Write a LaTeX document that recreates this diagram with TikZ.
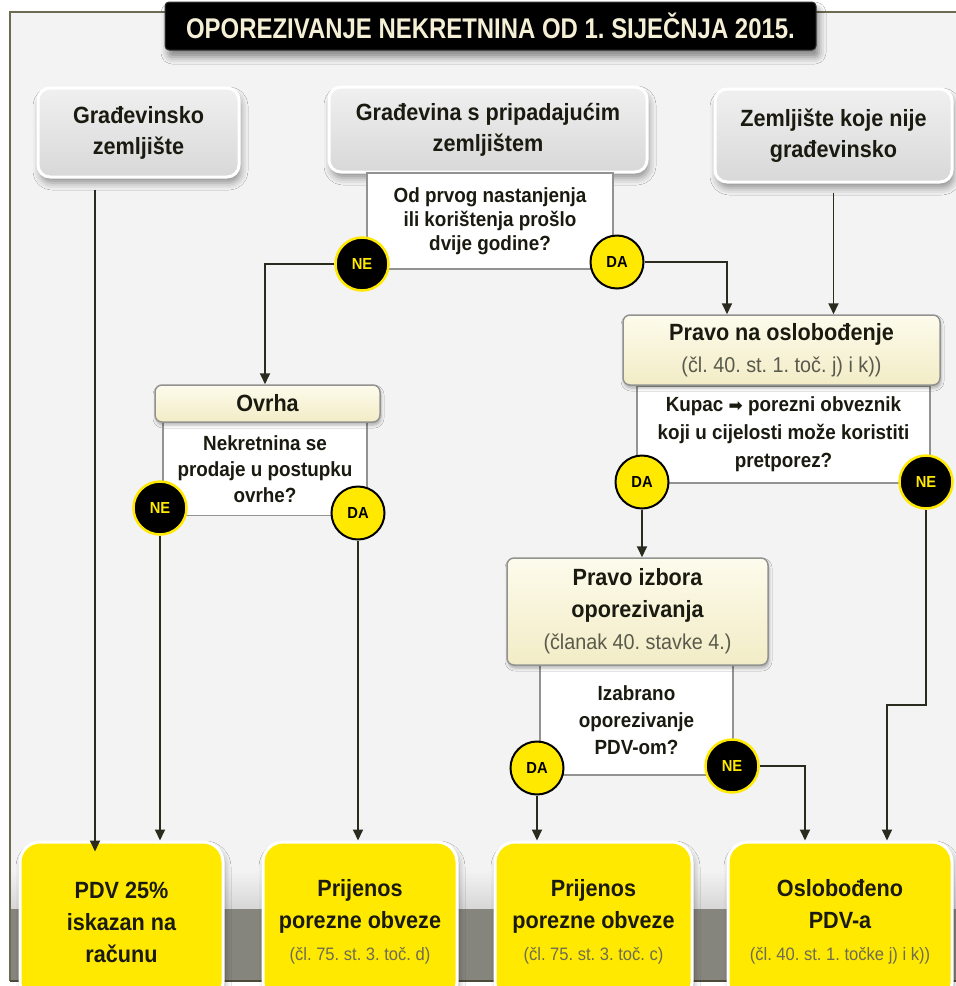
\documentclass[tikz,border=0pt]{standalone}
\usepackage{fontspec}
\setmainfont{Liberation Sans}[FakeStretch=0.92]
\newfontfamily\titlefont{Liberation Sans}[FakeStretch=0.84]
\newfontfamily\dejavu{DejaVu Sans}
\frenchspacing
\usetikzlibrary{arrows.meta,shadows.blur,calc}
\definecolor{framec}{HTML}{6E6A52}
\definecolor{bgc}{HTML}{F3F3F3}
\definecolor{bandc}{HTML}{85857D}
\definecolor{linec}{HTML}{2B2A1E}
\definecolor{txt}{HTML}{1A1A10}
\definecolor{subg}{HTML}{5A5A4C}
\definecolor{subgy}{HTML}{6E6C52}
\definecolor{yel}{HTML}{FFE900}
\definecolor{qborder}{HTML}{929290}
\definecolor{creamT}{HTML}{FDFBEC}
\definecolor{creamB}{HTML}{F2ECC6}
\definecolor{grayT}{HTML}{F0F0F0}
\definecolor{grayB}{HTML}{D8D8D8}
\definecolor{titletxt}{HTML}{F4EFD5}
\tikzset{
  topbox/.style={rounded corners=12pt, draw=white, line width=3pt, top color=grayT, bottom color=grayB,
    blur shadow={shadow xshift=2pt, shadow yshift=-6pt, shadow blur radius=7pt, shadow opacity=40},
    font=\bfseries\fontsize{23.5}{31}\selectfont, text=txt, align=center, inner sep=0pt},
  qbox/.style={draw=qborder, line width=1.5pt, fill=white, font=\bfseries\fontsize{20.5}{26}\selectfont,
    text=txt, align=center, inner sep=0pt},
  hbox/.style={rounded corners=7pt, draw=qborder, line width=1.5pt, top color=creamT, bottom color=creamB,
    blur shadow={shadow xshift=1pt, shadow yshift=-3pt, shadow blur radius=3pt, shadow opacity=30},
    font=\bfseries\fontsize{23.5}{32}\selectfont, text=txt, align=center, inner sep=0pt},
  resbox/.style={rounded corners=20pt, draw=white, line width=3pt, fill=yel,
    blur shadow={shadow xshift=2pt, shadow yshift=-5pt, shadow blur radius=6pt, shadow opacity=35},
    font=\bfseries\fontsize{23.5}{32}\selectfont, text=txt, align=center, inner sep=0pt},
  yesc/.style={circle, fill=yel, draw=black, line width=2pt, minimum size=53pt, inner sep=0pt,
    font=\bfseries\fontsize{16}{16}\selectfont, text=black},
  noc/.style={circle, fill=black, draw=yel, line width=2.5pt, minimum size=53pt, inner sep=0pt,
    font=\bfseries\fontsize{16}{16}\selectfont, text=yel},
  conn/.style={draw=linec, line width=1.8pt, -{Triangle[length=11pt,width=10pt]}},
  titlebox/.style={rounded corners=4pt, fill=black, draw=black!80, line width=1pt,
    blur shadow={shadow xshift=3pt, shadow yshift=-7pt, shadow blur radius=7pt, shadow opacity=45},
    text=titletxt, font=\titlefont\bfseries\fontsize{28.5}{28.5}\selectfont, inner sep=0pt}
}
\newcommand{\subt}[1]{{\mdseries\fontsize{21.5}{21.5}\selectfont\color{subg}#1}}
\newcommand{\subr}[1]{{\mdseries\fontsize{18}{18}\selectfont\color{subgy}#1}}
\begin{document}
\begin{tikzpicture}[x=1pt,y=-1pt]
\path[use as bounding box] (0,0) rectangle (956,986);
\fill[white] (0,0) rectangle (956,986);
\begin{scope}
\clip (0,0) rectangle (956,986);
% frame and background
\fill[bgc] (10,12) rectangle (970,981);
\shade[top color=bgc, bottom color=black!16] (10,870) rectangle (970,909);
\fill[bandc] (10,909) rectangle (970,981);
\draw[framec, line width=2pt] (10,981) -- (10,12) -- (970,12);
\draw[framec!70!black, line width=1.5pt] (10,981) -- (970,981);
% title
\node[titlebox, minimum width=651pt, minimum height=48pt] (title) at (490.5,26)
  {OPOREZIVANJE NEKRETNINA OD 1. SIJEČNJA 2015.};
% top boxes
\node[topbox, minimum width=201pt, minimum height=89pt] (A) at (138.5,132.5) {Građevinsko\\zemljište};
\node[topbox, minimum width=318pt, minimum height=85pt] (B) at (488,129.5) {Građevina s pripadajućim\\zemljištem};
\node[topbox, minimum width=237pt, minimum height=93pt] (C) at (833.5,135.5) {Zemljište koje nije\\građevinsko};
% question boxes
\node[qbox, minimum width=246pt, minimum height=96pt, font=\bfseries\fontsize{20.5}{24}\selectfont] (Q1) at (490,221)
  {Od prvog nastanjenja\\ili korištenja prošlo\\dvije godine?};
\node[qbox, minimum width=204pt, minimum height=93pt] (Q2) at (265,469) {Nekretnina se\\prodaje u postupku\\ovrhe?};
\node[qbox, minimum width=293pt, minimum height=97pt, font=\bfseries\fontsize{20.5}{28}\selectfont] (Q3) at (783.5,434.5)
  {Kupac {\dejavu\fontsize{17}{17}\selectfont ➡} porezni obveznik\\koji u cijelosti može koristiti\\pretporez?};
\node[qbox, minimum width=193pt, minimum height=110pt, font=\bfseries\fontsize{20.5}{27}\selectfont] (Q4) at (636.5,720)
  {Izabrano\\oporezivanje\\PDV-om?};
% headers
\node[hbox, minimum width=225pt, minimum height=37pt] (OvH) at (267.5,403.5) {Ovrha};
\node[hbox, minimum width=317pt, minimum height=70pt] (PH) at (781.5,350)
  {Pravo na oslobođenje\\\subt{(čl. 40. st. 1. toč. j) i k))}};
\node[hbox, minimum width=261pt, minimum height=107pt] (PI) at (637.5,611.5)
  {Pravo izbora\\oporezivanja\\\subt{(članak 40. stavke 4.)}};
% result boxes
\node[resbox, minimum width=203pt, minimum height=160pt] (pdv) at (121.5,922) {PDV 25\%\\iskazan na\\računu};
\node[resbox, minimum width=194pt, minimum height=160pt] (pr1) at (360,922)
  {Prijenos\\porezne obveze\\\subr{(čl. 75. st. 3. toč. d)}};
\node[resbox, minimum width=197pt, minimum height=160pt] (pr2) at (593.5,922)
  {Prijenos\\porezne obveze\\\subr{(čl. 75. st. 3. toč. c)}};
\node[resbox, minimum width=224pt, minimum height=160pt] (osl) at (840,922)
  {Oslobođeno\\PDV-a\\\subr{(čl. 40. st. 1. točke j) i k))}};
% decision circles
\node[noc] (NE1) at (362,264) {NE};
\node[yesc] (DA1) at (617,262) {DA};
\node[noc] (NE2) at (160,508) {NE};
\node[yesc] (DA2) at (358,513) {DA};
\node[yesc] (DA3) at (642,482) {DA};
\node[noc] (NE3) at (926,482) {NE};
\node[yesc] (DA4) at (537,768) {DA};
\node[noc] (NE4) at (732,766) {NE};
% connectors
\draw[conn] ([xshift=-43.5pt,yshift=-11pt]A.south) -- ([xshift=-43.5pt,yshift=-11pt]A.south |- pdv.north);
\draw[conn] (NE1.west) -| ([xshift=-2.5pt]OvH.north);
\draw[conn] (DA1.east) -| ([xshift=-54.5pt]PH.north);
\draw[conn] ([yshift=-9pt]C.south) -- (C.south |- PH.north);
\draw[conn] (NE2.south) -- (NE2.south |- pdv.north);
\draw[conn] (DA2.south) -- (DA2.south |- pr1.north);
\draw[conn] (DA3.south) -- (DA3.south |- PI.north);
\coordinate (jog) at (887,705);
\draw[conn] (NE3.south) |- (jog) -- (jog |- osl.north);
\draw[conn] (DA4.south) -- (DA4.south |- pr2.north);
\draw[conn] (NE4.east) -| ([xshift=-35pt]osl.north);
\end{scope}
\end{tikzpicture}
\end{document}
